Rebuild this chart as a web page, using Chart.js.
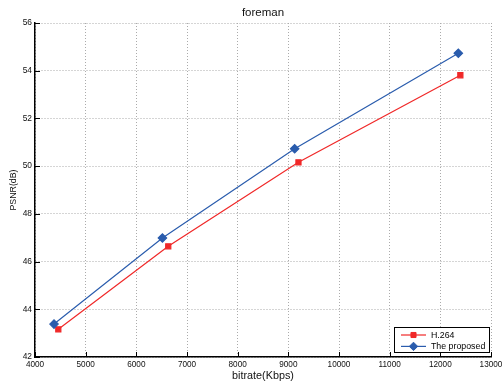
<!DOCTYPE html>
<html>
<head>
<meta charset="utf-8">
<script src="https://cdn.jsdelivr.net/npm/chart.js@4"></script>
<style>
  html, body { margin: 0; padding: 0; background: #fff; }
  #wrap { width: 502px; height: 389px; }
</style>
</head>
<body>
<div id="wrap"><canvas id="c" width="502" height="389"></canvas></div>
<script>
// Rate-distortion points for the "foreman" sequence
const bitrateH264 = [4460, 6630, 9200, 12395];
const psnrH264 = [43.16, 46.64, 50.16, 53.81];
const bitrateProposed = [4375, 6515, 9125, 12355];
const psnrProposed = [43.38, 46.99, 50.73, 54.73];

const xTicks = [4000, 5000, 6000, 7000, 8000, 9000, 10000, 11000, 12000, 13000];
const yTicks = [42, 44, 46, 48, 50, 52, 54, 56];

const seriesNames = ['H.264', 'The proposed'];

const FONT = '"Liberation Sans", Arial, Helvetica, sans-serif';
const toPoints = (xs, ys) => xs.map((x, i) => ({ x: x, y: ys[i] }));

// Short tick marks drawn inward from the left and bottom axes
const inwardTicks = {
  id: 'inwardTicks',
  afterDraw(chart) {
    const ctx = chart.ctx;
    const area = chart.chartArea;
    const xs = chart.scales.x, ys = chart.scales.y;
    ctx.save();
    ctx.strokeStyle = '#000';
    ctx.lineWidth = 1;
    ctx.beginPath();
    xTicks.forEach(v => {
      const px = Math.round(xs.getPixelForValue(v)) + 0.5;
      ctx.moveTo(px, area.bottom);
      ctx.lineTo(px, area.bottom - 5);
    });
    yTicks.forEach(v => {
      const py = Math.round(ys.getPixelForValue(v)) + 0.5;
      ctx.moveTo(area.left, py);
      ctx.lineTo(area.left + 5, py);
    });
    ctx.stroke();
    ctx.restore();
  }
};

// Boxed legend in the lower-right corner of the plot area
const cornerLegend = {
  id: 'cornerLegend',
  afterDraw(chart) {
    const ctx = chart.ctx;
    const area = chart.chartArea;
    const sets = chart.data.datasets;
    const w = 95, rowH = 11.4, h = 25;
    const right = area.right - 2, bottom = area.bottom - 5;
    const left = right - w, top = bottom - h;
    ctx.save();
    ctx.fillStyle = '#fff';
    ctx.fillRect(left, top, w, h);
    ctx.strokeStyle = '#000';
    ctx.lineWidth = 1;
    ctx.strokeRect(Math.round(left) + 0.5, Math.round(top) + 0.5, w, h);
    ctx.font = '8.8px ' + FONT;
    ctx.textBaseline = 'middle';
    ctx.textAlign = 'left';
    sets.forEach((ds, i) => {
      const y = top + 8 + i * rowH;
      const x0 = left + 7, x1 = left + 32;
      ctx.strokeStyle = ds.borderColor;
      ctx.lineWidth = ds.borderWidth;
      ctx.beginPath();
      ctx.moveTo(x0, y);
      ctx.lineTo(x1, y);
      ctx.stroke();
      ctx.fillStyle = ds.pointBackgroundColor;
      ctx.strokeStyle = ds.pointBorderColor;
      ctx.lineWidth = 1;
      Chart.helpers.drawPoint(ctx, {
        pointStyle: ds.pointStyle,
        radius: ds.pointRadius,
        borderWidth: 1,
        rotation: 0
      }, (x0 + x1) / 2, y);
      ctx.fillStyle = '#000';
      ctx.fillText(ds.label, left + 37, y + 0.5);
    });
    ctx.restore();
  }
};

new Chart(document.getElementById('c'), {
  type: 'scatter',
  data: {
    datasets: [
      {
        label: seriesNames[0],
        data: toPoints(bitrateH264, psnrH264),
        showLine: true,
        borderColor: '#f02828',
        backgroundColor: '#f02828',
        pointBackgroundColor: '#f02828',
        pointBorderColor: '#f02828',
        borderWidth: 1.2,
        pointStyle: 'rect',
        pointRadius: 3.6,
        pointHoverRadius: 3.6,
        order: 2
      },
      {
        label: seriesNames[1],
        data: toPoints(bitrateProposed, psnrProposed),
        showLine: true,
        borderColor: '#2a5cad',
        backgroundColor: '#2a5cad',
        pointBackgroundColor: '#2a5cad',
        pointBorderColor: '#2a5cad',
        borderWidth: 1.2,
        pointStyle: 'rectRot',
        pointRadius: 4.2,
        pointHoverRadius: 4.2,
        order: 1
      }
    ]
  },
  options: {
    responsive: false,
    animation: false,
    events: [],
    layout: { padding: { left: 0, right: 11, top: 0, bottom: 0 } },
    plugins: {
      legend: { display: false },
      tooltip: { enabled: false },
      title: {
        display: true,
        text: 'foreman',
        fullSize: false,
        color: '#111',
        font: { family: FONT, size: 11.5, weight: 'normal' },
        padding: { top: 5.5, bottom: 3.7 }
      }
    },
    scales: {
      x: {
        type: 'linear',
        min: 4000,
        max: 13000,
        afterBuildTicks(scale) { scale.ticks = xTicks.map(v => ({ value: v })); },
        afterFit(scale) { scale.height = 32; scale.paddingLeft = 0; scale.paddingRight = 0; },
        ticks: {
          padding: 3,
          color: '#111',
          font: { family: FONT, size: 8.2 },
          maxRotation: 0,
          autoSkip: false,
          callback: v => String(v)
        },
        grid: { color: '#ababab', lineWidth: 1, drawTicks: false },
        border: { display: true, color: '#000', width: 1.5, dash: [1, 2] },
        title: {
          display: true,
          text: 'bitrate(Kbps)',
          color: '#111',
          font: { family: FONT, size: 10.8 },
          padding: { top: 0, bottom: 6 }
        }
      },
      y: {
        type: 'linear',
        min: 42,
        max: 56,
        afterBuildTicks(scale) { scale.ticks = yTicks.map(v => ({ value: v })); },
        afterFit(scale) { scale.width = 35; scale.paddingTop = 0; scale.paddingBottom = 0; },
        ticks: {
          padding: 3,
          color: '#111',
          font: { family: FONT, size: 8.4 },
          autoSkip: false,
          callback: v => String(v)
        },
        grid: { color: '#ababab', lineWidth: 1, drawTicks: false },
        border: { display: true, color: '#000', width: 1.5, dash: [1, 2] },
        title: {
          display: true,
          text: 'PSNR(dB)',
          color: '#111',
          font: { family: FONT, size: 8.8 },
          padding: { top: 8, bottom: 0 }
        }
      }
    }
  },
  plugins: [inwardTicks, cornerLegend]
});
</script>
</body>
</html>
